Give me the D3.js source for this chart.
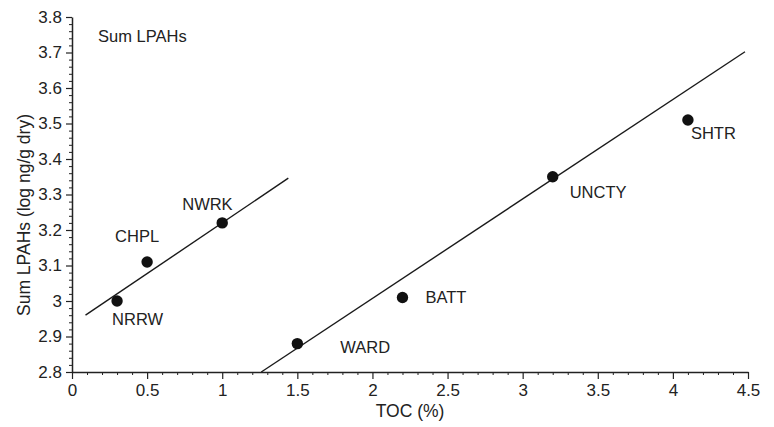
<!DOCTYPE html>
<html>
<head>
<meta charset="utf-8">
<script src="https://cdn.jsdelivr.net/npm/d3@7"></script>
<style>
  html, body { margin: 0; padding: 0; background: #fff; }
  svg { display: block; }
  text { font-family: "Liberation Sans", Arial, Helvetica, sans-serif; fill: #222; }
</style>
</head>
<body>
<svg id="chart" width="774" height="427"></svg>
<script>
// ---- data ----
const categories = ["NRRW", "CHPL", "NWRK", "WARD", "BATT", "UNCTY", "SHTR"];
const tocValues  = [0.3, 0.5, 1.0, 1.5, 2.2, 3.2, 4.1];
const lpahValues = [3.00, 3.11, 3.22, 2.88, 3.01, 3.35, 3.51];

const xTickValues = [0, 0.5, 1, 1.5, 2, 2.5, 3, 3.5, 4, 4.5];
const xTickLabels = ["0", "0.5", "1", "1.5", "2", "2.5", "3", "3.5", "4", "4.5"];
const yTickValues = [2.8, 2.9, 3.0, 3.1, 3.2, 3.3, 3.4, 3.5, 3.6, 3.7, 3.8];
const yTickLabels = ["2.8", "2.9", "3", "3.1", "3.2", "3.3", "3.4", "3.5", "3.6", "3.7", "3.8"];

// fitted lines (endpoints)
const fit1X = [0.09, 1.44];
const fit1Y = [2.96, 3.346];
const fit2X = [1.26, 4.48];
const fit2Y = [2.80, 3.702];

const chartTitle = "Sum LPAHs";
const xTitle = "TOC (%)";
const yTitle = "Sum LPAHs (log ng/g dry)";

// ---- label placement (styling, pixels) ----
const labelOffsets = {
  NRRW:  [-5, 24],
  CHPL:  [-32, -20],
  NWRK:  [-40, -13],
  WARD:  [43, 9],
  BATT:  [23, 6],
  UNCTY: [17, 21],
  SHTR:  [3, 19]
};

// ---- drawing ----
const svg = d3.select("#chart");
const x = d3.scaleLinear().domain([0, 4.5]).range([72, 748]);
const y = d3.scaleLinear().domain([2.8, 3.8]).range([372, 17]);

const xMinor = d3.range(0, 4.5001, 0.1).map(v => +v.toFixed(2)).filter(v => !xTickValues.some(t => Math.abs(t - v) < 1e-6));
const yMinor = d3.range(2.8, 3.8001, 0.02).map(v => +v.toFixed(2)).filter(v => !yTickValues.some(t => Math.abs(t - v) < 1e-6));

// minor ticks
svg.append("g")
  .attr("transform", `translate(0,${y(2.8)})`)
  .call(d3.axisBottom(x).tickValues(xMinor).tickSize(3).tickFormat(""))
  .call(g => g.select(".domain").remove())
  .selectAll("line").attr("stroke", "#222").attr("stroke-width", 1);

svg.append("g")
  .attr("transform", `translate(${x(0)},0)`)
  .call(d3.axisLeft(y).tickValues(yMinor).tickSize(3).tickFormat(""))
  .call(g => g.select(".domain").remove())
  .selectAll("line").attr("stroke", "#222").attr("stroke-width", 1);

// major axes
const xAxis = svg.append("g")
  .attr("transform", `translate(0,${y(2.8)})`)
  .call(d3.axisBottom(x).tickValues(xTickValues).tickSize(7).tickSizeOuter(0).tickPadding(5)
    .tickFormat((d, i) => xTickLabels[i]));
xAxis.select(".domain").attr("stroke", "#222").attr("stroke-width", 1.5);
xAxis.selectAll(".tick line").attr("stroke", "#222").attr("stroke-width", 1.2);
xAxis.selectAll(".tick text").attr("font-size", 17).attr("fill", "#2a2a2a")
  .style("font-family", "Liberation Sans, Arial, sans-serif");

const yAxis = svg.append("g")
  .attr("transform", `translate(${x(0)},0)`)
  .call(d3.axisLeft(y).tickValues(yTickValues).tickSize(6).tickSizeOuter(0).tickPadding(4)
    .tickFormat((d, i) => yTickLabels[i]));
yAxis.select(".domain").attr("stroke", "#222").attr("stroke-width", 1.5);
yAxis.selectAll(".tick line").attr("stroke", "#222").attr("stroke-width", 1.2);
yAxis.selectAll(".tick text").attr("font-size", 17).attr("fill", "#2a2a2a")
  .style("font-family", "Liberation Sans, Arial, sans-serif");

// fit lines
const lineGen = d3.line().x(d => x(d[0])).y(d => y(d[1]));
[[fit1X, fit1Y], [fit2X, fit2Y]].forEach(([xs, ys]) => {
  svg.append("path")
    .datum(xs.map((v, i) => [v, ys[i]]))
    .attr("d", lineGen)
    .attr("fill", "none")
    .attr("stroke", "#1a1a1a")
    .attr("stroke-width", 1.4);
});

// points
const pts = categories.map((c, i) => ({ name: c, x: tocValues[i], y: lpahValues[i] }));
svg.append("g").selectAll("circle").data(pts).join("circle")
  .attr("cx", d => x(d.x)).attr("cy", d => y(d.y)).attr("r", 5.7)
  .attr("fill", "#111");

svg.append("g").selectAll("text").data(pts).join("text")
  .attr("x", d => x(d.x) + labelOffsets[d.name][0])
  .attr("y", d => y(d.y) + labelOffsets[d.name][1])
  .attr("font-size", 16.5)
  .text(d => d.name);

// titles
svg.append("text").attr("x", 98).attr("y", 42).attr("font-size", 16.5).text(chartTitle);
svg.append("text").attr("x", 410).attr("y", 417).attr("text-anchor", "middle").attr("font-size", 17.5).text(xTitle);
svg.append("text")
  .attr("transform", `translate(30,215) rotate(-90)`)
  .attr("text-anchor", "middle").attr("font-size", 17.5).text(yTitle);
</script>
</body>
</html>
